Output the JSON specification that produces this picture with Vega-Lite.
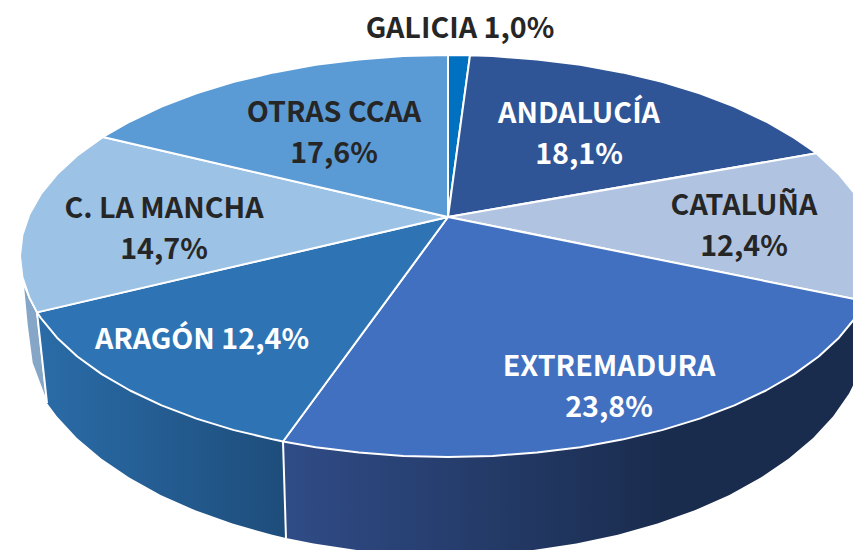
{"$schema":"https://vega.github.io/schema/vega-lite/v6.json","width":853,"height":550,"padding":0,"autosize":{"type":"fit","contains":"padding"},"background":"white","view":{"stroke":null},
"datasets":{
"top":[
{"p":"GALICIA","i":0,"x":0,"y":0},{"p":"GALICIA","i":1,"x":0,"y":162},{"p":"GALICIA","i":2,"x":22,"y":161.7},{"p":"GALICIA","i":3,"x":0,"y":0},
{"p":"ANDALUCÍA","i":0,"x":0,"y":0},{"p":"ANDALUCÍA","i":1,"x":22,"y":161.7},{"p":"ANDALUCÍA","i":2,"x":44.7,"y":160.9},{"p":"ANDALUCÍA","i":3,"x":89,"y":157.6},{"p":"ANDALUCÍA","i":4,"x":132.3,"y":152.2},{"p":"ANDALUCÍA","i":5,"x":174.1,"y":144.6},{"p":"ANDALUCÍA","i":6,"x":214,"y":135.1},{"p":"ANDALUCÍA","i":7,"x":251.6,"y":123.6},{"p":"ANDALUCÍA","i":8,"x":286.4,"y":110.4},{"p":"ANDALUCÍA","i":9,"x":318,"y":95.5},{"p":"ANDALUCÍA","i":10,"x":346.3,"y":79.1},{"p":"ANDALUCÍA","i":11,"x":368.5,"y":63.7},{"p":"ANDALUCÍA","i":12,"x":0,"y":0},
{"p":"CATALUÑA","i":0,"x":0,"y":0},{"p":"CATALUÑA","i":1,"x":368.5,"y":63.7},{"p":"CATALUÑA","i":2,"x":370.7,"y":61.5},{"p":"CATALUÑA","i":3,"x":391,"y":42.7},{"p":"CATALUÑA","i":4,"x":407.1,"y":23.1},{"p":"CATALUÑA","i":5,"x":418.6,"y":2.8},{"p":"CATALUÑA","i":6,"x":425.6,"y":-18},{"p":"CATALUÑA","i":7,"x":428,"y":-39},{"p":"CATALUÑA","i":8,"x":425.6,"y":-60},{"p":"CATALUÑA","i":9,"x":418.6,"y":-80.8},{"p":"CATALUÑA","i":10,"x":417,"y":-84.2},{"p":"CATALUÑA","i":11,"x":0,"y":0},
{"p":"EXTREMADURA","i":0,"x":0,"y":0},{"p":"EXTREMADURA","i":1,"x":417,"y":-84.2},{"p":"EXTREMADURA","i":2,"x":407.1,"y":-101.1},{"p":"EXTREMADURA","i":3,"x":391,"y":-120.7},{"p":"EXTREMADURA","i":4,"x":370.7,"y":-139.5},{"p":"EXTREMADURA","i":5,"x":346.3,"y":-157.1},{"p":"EXTREMADURA","i":6,"x":318,"y":-173.5},{"p":"EXTREMADURA","i":7,"x":286.4,"y":-188.4},{"p":"EXTREMADURA","i":8,"x":251.6,"y":-201.6},{"p":"EXTREMADURA","i":9,"x":214,"y":-213.1},{"p":"EXTREMADURA","i":10,"x":174.1,"y":-222.6},{"p":"EXTREMADURA","i":11,"x":132.3,"y":-230.2},{"p":"EXTREMADURA","i":12,"x":89,"y":-235.6},{"p":"EXTREMADURA","i":13,"x":44.7,"y":-238.9},{"p":"EXTREMADURA","i":14,"x":0,"y":-240},{"p":"EXTREMADURA","i":15,"x":-44.7,"y":-238.9},{"p":"EXTREMADURA","i":16,"x":-89,"y":-235.6},{"p":"EXTREMADURA","i":17,"x":-132.3,"y":-230.2},{"p":"EXTREMADURA","i":18,"x":-165,"y":-224.5},{"p":"EXTREMADURA","i":19,"x":0,"y":0},
{"p":"ARAGÓN","i":0,"x":0,"y":0},{"p":"ARAGÓN","i":1,"x":-165,"y":-224.5},{"p":"ARAGÓN","i":2,"x":-174.1,"y":-222.6},{"p":"ARAGÓN","i":3,"x":-214,"y":-213.1},{"p":"ARAGÓN","i":4,"x":-251.6,"y":-201.6},{"p":"ARAGÓN","i":5,"x":-286.4,"y":-188.4},{"p":"ARAGÓN","i":6,"x":-318,"y":-173.5},{"p":"ARAGÓN","i":7,"x":-346.3,"y":-157.1},{"p":"ARAGÓN","i":8,"x":-370.7,"y":-139.5},{"p":"ARAGÓN","i":9,"x":-391,"y":-120.7},{"p":"ARAGÓN","i":10,"x":-407.1,"y":-101.1},{"p":"ARAGÓN","i":11,"x":-411,"y":-95.4},{"p":"ARAGÓN","i":12,"x":0,"y":0},
{"p":"C. LA MANCHA","i":0,"x":0,"y":0},{"p":"C. LA MANCHA","i":1,"x":-411,"y":-95.4},{"p":"C. LA MANCHA","i":2,"x":-418.6,"y":-80.8},{"p":"C. LA MANCHA","i":3,"x":-425.6,"y":-60},{"p":"C. LA MANCHA","i":4,"x":-428,"y":-39},{"p":"C. LA MANCHA","i":5,"x":-425.6,"y":-18},{"p":"C. LA MANCHA","i":6,"x":-418.6,"y":2.8},{"p":"C. LA MANCHA","i":7,"x":-407.1,"y":23.1},{"p":"C. LA MANCHA","i":8,"x":-391,"y":42.7},{"p":"C. LA MANCHA","i":9,"x":-370.7,"y":61.5},{"p":"C. LA MANCHA","i":10,"x":-346.3,"y":79.1},{"p":"C. LA MANCHA","i":11,"x":-345,"y":80},{"p":"C. LA MANCHA","i":12,"x":0,"y":0},
{"p":"OTRAS CCAA","i":0,"x":0,"y":0},{"p":"OTRAS CCAA","i":1,"x":-345,"y":80},{"p":"OTRAS CCAA","i":2,"x":-318,"y":95.5},{"p":"OTRAS CCAA","i":3,"x":-286.4,"y":110.4},{"p":"OTRAS CCAA","i":4,"x":-251.6,"y":123.6},{"p":"OTRAS CCAA","i":5,"x":-214,"y":135.1},{"p":"OTRAS CCAA","i":6,"x":-174.1,"y":144.6},{"p":"OTRAS CCAA","i":7,"x":-132.3,"y":152.2},{"p":"OTRAS CCAA","i":8,"x":-89,"y":157.6},{"p":"OTRAS CCAA","i":9,"x":-44.7,"y":160.9},{"p":"OTRAS CCAA","i":10,"x":0,"y":162},{"p":"OTRAS CCAA","i":11,"x":0,"y":0}
],
"sideE":[
{"i":0,"x":417,"y":-84.2},{"i":1,"x":407.1,"y":-101.1},{"i":2,"x":391,"y":-120.7},{"i":3,"x":370.7,"y":-139.5},{"i":4,"x":346.3,"y":-157.1},{"i":5,"x":318,"y":-173.5},{"i":6,"x":286.4,"y":-188.4},{"i":7,"x":251.6,"y":-201.6},{"i":8,"x":214,"y":-213.1},{"i":9,"x":174.1,"y":-222.6},{"i":10,"x":132.3,"y":-230.2},{"i":11,"x":89,"y":-235.6},{"i":12,"x":44.7,"y":-238.9},{"i":13,"x":0,"y":-240},{"i":14,"x":-44.7,"y":-238.9},{"i":15,"x":-89,"y":-235.6},{"i":16,"x":-132.3,"y":-230.2},{"i":17,"x":-165,"y":-224.5},{"i":18,"x":-162,"y":-321},{"i":19,"x":-134.3,"y":-326.6},{"i":20,"x":-91.4,"y":-332.9},{"i":21,"x":-47.4,"y":-336.7},{"i":22,"x":-3,"y":-338},{"i":23,"x":41.4,"y":-336.7},{"i":24,"x":85.4,"y":-332.9},{"i":25,"x":128.3,"y":-326.6},{"i":26,"x":169.8,"y":-317.8},{"i":27,"x":209.5,"y":-306.6},{"i":28,"x":246.8,"y":-293.3},{"i":29,"x":281.4,"y":-277.9},{"i":30,"x":312.8,"y":-260.6},{"i":31,"x":340.8,"y":-241.5},{"i":32,"x":365.1,"y":-221},{"i":33,"x":385.2,"y":-199.2},{"i":34,"x":401.2,"y":-176.3},{"i":35,"x":412.7,"y":-152.7},{"i":36,"x":419.7,"y":-128.5},{"i":37,"x":417,"y":-84.2}
],
"sideA":[
{"i":0,"x":-165,"y":-224.5},{"i":1,"x":-174.1,"y":-222.6},{"i":2,"x":-214,"y":-213.1},{"i":3,"x":-251.6,"y":-201.6},{"i":4,"x":-286.4,"y":-188.4},{"i":5,"x":-318,"y":-173.5},{"i":6,"x":-346.3,"y":-157.1},{"i":7,"x":-370.7,"y":-139.5},{"i":8,"x":-391,"y":-120.7},{"i":9,"x":-407.1,"y":-101.1},{"i":10,"x":-411,"y":-95.4},{"i":11,"x":-401,"y":-186},{"i":12,"x":-391.2,"y":-199.2},{"i":13,"x":-371.1,"y":-221},{"i":14,"x":-346.8,"y":-241.5},{"i":15,"x":-318.8,"y":-260.6},{"i":16,"x":-287.4,"y":-277.9},{"i":17,"x":-252.8,"y":-293.3},{"i":18,"x":-215.5,"y":-306.6},{"i":19,"x":-175.8,"y":-317.8},{"i":20,"x":-162,"y":-321},{"i":21,"x":-165,"y":-224.5}
],
"sideM":[
{"i":0,"x":-411,"y":-95.4},{"i":1,"x":-418.6,"y":-80.8},{"i":2,"x":-425,"y":-66},{"i":3,"x":-421,"y":-108},{"i":4,"x":-416,"y":-146},{"i":5,"x":-401,"y":-186},{"i":6,"x":-411,"y":-95.4}
],
"labels":[
{"p":"GALICIA","share":1.0,"text":"GALICIA 1,0%","x":12,"y":188},
{"p":"ANDALUCÍA","share":18.1,"text":"ANDALUCÍA\n18,1%","x":131,"y":103.5},
{"p":"CATALUÑA","share":12.4,"text":"CATALUÑA\n12,4%","x":296,"y":11.5},
{"p":"EXTREMADURA","share":23.8,"text":"EXTREMADURA\n23,8%","x":161,"y":-149.5},
{"p":"ARAGÓN","share":12.4,"text":"ARAGÓN 12,4%","x":-246,"y":-123},
{"p":"C. LA MANCHA","share":14.7,"text":"C. LA MANCHA\n14,7%","x":-284,"y":8.5},
{"p":"OTRAS CCAA","share":17.6,"text":"OTRAS CCAA\n17,6%","x":-114,"y":104.5}
]},
"encoding":{
"x":{"field":"x","type":"quantitative","scale":{"domain":[-448,405],"nice":false,"zero":false},"axis":null},
"y":{"field":"y","type":"quantitative","scale":{"domain":[-333,217],"nice":false,"zero":false},"axis":null}},
"layer":[
{"data":{"name":"sideM"},"mark":{"type":"line","clip":true,"fill":"#86a6c8","stroke":"white","strokeWidth":1.5},"encoding":{"order":{"field":"i","type":"quantitative"}}},
{"data":{"name":"sideA"},"mark":{"type":"line","clip":true,"stroke":"white","strokeWidth":0,"fill":{"x1":0,"y1":0,"x2":1,"y2":0,"gradient":"linear","stops":[{"offset":0,"color":"#2a6ca8"},{"offset":1,"color":"#1e4d7b"}]}},"encoding":{"order":{"field":"i","type":"quantitative"}}},
{"data":{"name":"sideE"},"mark":{"type":"line","clip":true,"stroke":"white","strokeWidth":0,"fill":{"x1":0,"y1":0,"x2":1,"y2":0,"gradient":"linear","stops":[{"offset":0,"color":"#304c87"},{"offset":0.65,"color":"#1a2c4e"},{"offset":1,"color":"#1a2c4e"}]}},"encoding":{"order":{"field":"i","type":"quantitative"}}},
{"data":{"values":[{"g":"a","i":0,"x":-411,"y":-95.4},{"g":"a","i":1,"x":-401,"y":-186},{"g":"b","i":0,"x":-165,"y":-224.5},{"g":"b","i":1,"x":-162,"y":-321}]},"mark":{"type":"line","stroke":"white","strokeWidth":2},"encoding":{"detail":{"field":"g"},"order":{"field":"i","type":"quantitative"}}},
{"data":{"name":"top"},"mark":{"type":"line","clip":true,"stroke":"white","strokeWidth":2,"strokeJoin":"round"},"encoding":{"fill":{"field":"p","type":"nominal","legend":null,"scale":{"domain":["GALICIA","ANDALUCÍA","CATALUÑA","EXTREMADURA","ARAGÓN","C. LA MANCHA","OTRAS CCAA"],"range":["#0070c0","#2f5597","#b0c4e2","#4270c0","#2e74b5","#9cc2e5","#5b9bd5"]}},"detail":{"field":"p"},"order":{"field":"i","type":"quantitative"},"stroke":{"value":"white"}}},
{"data":{"name":"labels"},"mark":{"type":"text","font":"Noto Sans CJK SC","fontWeight":700,"fontSize":28.7,"lineHeight":41,"lineBreak":"\n","align":"center","baseline":"middle"},"encoding":{"text":{"field":"text"},"color":{"field":"p","type":"nominal","legend":null,"scale":{"domain":["GALICIA","ANDALUCÍA","CATALUÑA","EXTREMADURA","ARAGÓN","C. LA MANCHA","OTRAS CCAA"],"range":["#262626","#ffffff","#262626","#ffffff","#ffffff","#262626","#262626"]}}}}
]}
